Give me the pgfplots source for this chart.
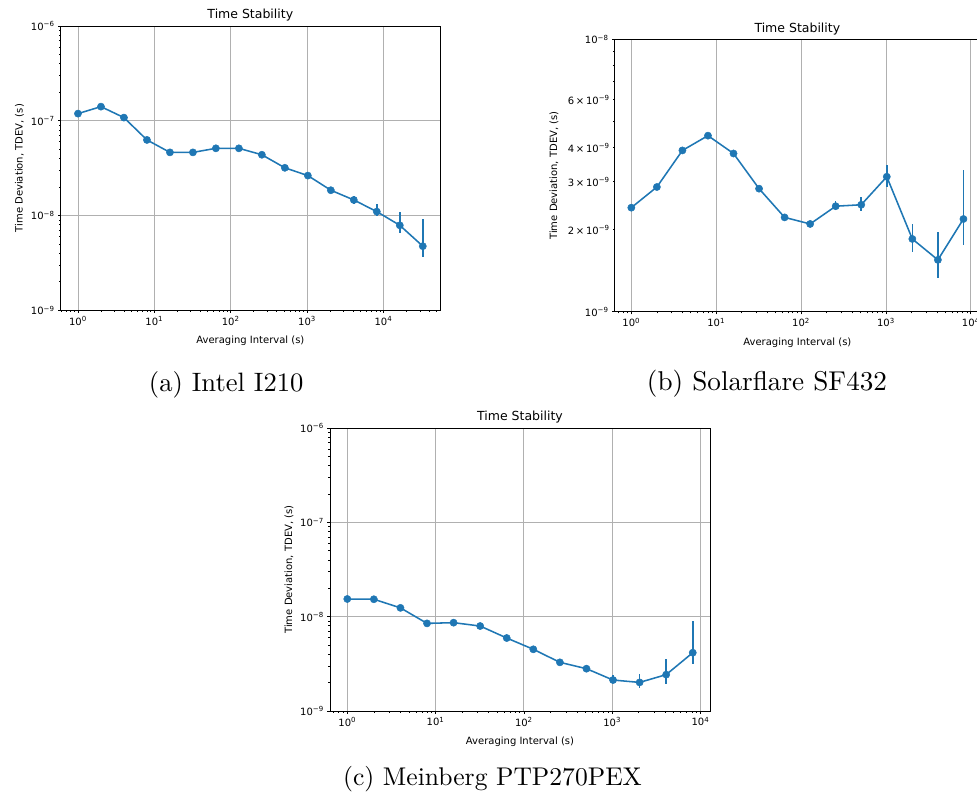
\documentclass[border=0pt]{standalone}
\usepackage{pgfplots}
\pgfplotsset{compat=1.18}
\usepackage{pgfplotstable}
\usepackage{fontspec}
\newfontfamily\djv{DejaVu Sans}
\definecolor{mplblue}{HTML}{1F77B4}
\definecolor{mplgrid}{HTML}{B0B0B0}

\pgfplotstableread{
x y ep em
1 1.19e-7 0 0
2 1.41e-7 0 0
4 1.08e-7 0 0
8 6.28e-8 0 0
16 4.64e-8 0 0
32 4.64e-8 0 0
64 5.12e-8 0 0
128 5.12e-8 0 0
256 4.38e-8 0 0
512 3.19e-8 0 0
1024 2.64e-8 0 0
2048 1.85e-8 0 0
4096 1.46e-8 0.16e-8 0.14e-8
8192 1.10e-8 0.21e-8 0.12e-8
16384 7.89e-9 3.11e-9 1.34e-9
32768 4.75e-9 4.39e-9 1.12e-9
}\dataA

\pgfplotstableread{
x y ep em
1 2.41e-9 0 0
2 2.87e-9 0 0
4 3.91e-9 0 0
8 4.43e-9 0 0
16 3.81e-9 0 0
32 2.83e-9 0 0
64 2.22e-9 0 0
128 2.10e-9 0 0
256 2.44e-9 0.10e-9 0.07e-9
512 2.47e-9 0.17e-9 0.12e-9
1024 3.13e-9 0.34e-9 0.25e-9
2048 1.85e-9 0.25e-9 0.19e-9
4096 1.55e-9 0.42e-9 0.22e-9
8192 2.19e-9 1.11e-9 0.43e-9
}\dataB

\pgfplotstableread{
x y ep em
1 1.54e-8 0 0
2 1.53e-8 0 0
4 1.24e-8 0 0
8 8.49e-9 0 0
16 8.64e-9 0 0
32 7.96e-9 0 0
64 5.94e-9 0 0
128 4.51e-9 0 0
256 3.28e-9 0 0
512 2.81e-9 0 0
1024 2.13e-9 0.28e-9 0.17e-9
2048 2.01e-9 0.44e-9 0.27e-9
4096 2.43e-9 1.16e-9 0.50e-9
8192 4.15e-9 4.92e-9 1.02e-9
}\dataC

\begin{document}
\begin{tikzpicture}
\path[use as bounding box, clip] (0pt,0pt) rectangle (977pt,798pt);

% (a)
\begin{axis}[
  xmode=log, ymode=log, scale only axis,
  axis line style={line width=0.8pt},
  tick align=outside, tick pos=left,
  major tick length=2.7pt, minor tick length=1.6pt,
  tick style={black, line width=0.7pt},
  xmajorgrids, ymajorgrids,
  major grid style={mplgrid, line width=0.8pt},
  title style={font=\djv\fontsize{12.5}{15}\selectfont, yshift=-5pt},
  label style={font=\djv\fontsize{10}{12}\selectfont},
  xlabel style={yshift=-4pt},
  tick label style={font=\djv\fontsize{10}{12}\selectfont},
  title={Time Stability},
  xlabel={Averaging Interval (s)},
  ylabel={Time Deviation, TDEV, (s)},
  xtick={1,10,100,1000,10000},
  xticklabels={10\textsuperscript{0},10\textsuperscript{1},10\textsuperscript{2},10\textsuperscript{3},10\textsuperscript{4}},
  ymin=1e-9, ymax=1e-6,
  ytick={1e-9,1e-8,1e-7,1e-6},
  yticklabels={10\textsuperscript{−9},10\textsuperscript{−8},10\textsuperscript{−7},10\textsuperscript{−6}},
  minor ytick={2e-9,3e-9,4e-9,5e-9,6e-9,7e-9,8e-9,9e-9,2e-8,3e-8,4e-8,5e-8,6e-8,7e-8,8e-8,9e-8,2e-7,3e-7,4e-7,5e-7,6e-7,7e-7,8e-7,9e-7},
  at={(60.7pt,487.7pt)}, anchor=south west, width=379.3pt, height=284.3pt,
  xmin=0.594, xmax=55080,
  minor xtick={0.6,0.7,0.8,0.9,2,3,4,5,6,7,8,9,20,30,40,50,60,70,80,90,200,300,400,500,600,700,800,900,2000,3000,4000,5000,6000,7000,8000,9000,20000,30000,40000,50000},
]
\addplot[mplblue, line width=1.55pt, mark=*, mark size=3.6pt, mark options={mplblue, solid, line width=0.5pt},
  error bars/y dir=both, error bars/y explicit, error bars/error mark=none,
  error bars/error bar style={line width=1.55pt, mplblue}]
  table[x=x, y=y, y error plus=ep, y error minus=em] {\dataA};
\end{axis}

% (b)
\begin{axis}[
  xmode=log, ymode=log, scale only axis,
  axis line style={line width=0.8pt},
  tick align=outside, tick pos=left,
  major tick length=2.7pt, minor tick length=1.6pt,
  tick style={black, line width=0.7pt},
  xmajorgrids, ymajorgrids,
  major grid style={mplgrid, line width=0.8pt},
  title style={font=\djv\fontsize{12.5}{15}\selectfont, yshift=-5pt},
  label style={font=\djv\fontsize{10}{12}\selectfont},
  xlabel style={yshift=-4pt},
  tick label style={font=\djv\fontsize{10}{12}\selectfont},
  title={Time Stability},
  xlabel={Averaging Interval (s)},
  ylabel={Time Deviation, TDEV, (s)},
  xtick={1,10,100,1000,10000},
  xticklabels={10\textsuperscript{0},10\textsuperscript{1},10\textsuperscript{2},10\textsuperscript{3},10\textsuperscript{4}},
  at={(614.7pt,486.3pt)}, anchor=south west, width=365.3pt, height=272.4pt,
  xmin=0.637, xmax=12850,
  ymin=1e-9, ymax=1e-8,
  ytick={1e-9,1e-8},
  yticklabels={10\textsuperscript{−9},10\textsuperscript{−8}},
  extra y ticks={2e-9,3e-9,4e-9,6e-9},
  extra y tick labels={2\,×\,10\textsuperscript{−9},3\,×\,10\textsuperscript{−9},4\,×\,10\textsuperscript{−9},6\,×\,10\textsuperscript{−9}},
  extra y tick style={grid=none, major tick length=1.6pt},
  minor ytick={5e-9,7e-9,8e-9,9e-9},
  minor xtick={0.7,0.8,0.9,2,3,4,5,6,7,8,9,20,30,40,50,60,70,80,90,200,300,400,500,600,700,800,900,2000,3000,4000,5000,6000,7000,8000,9000},
]
\addplot[mplblue, line width=1.55pt, mark=*, mark size=3.6pt, mark options={mplblue, solid, line width=0.5pt},
  error bars/y dir=both, error bars/y explicit, error bars/error mark=none,
  error bars/error bar style={line width=1.55pt, mplblue}]
  table[x=x, y=y, y error plus=ep, y error minus=em] {\dataB};
\end{axis}

% (c)
\begin{axis}[
  xmode=log, ymode=log, scale only axis,
  axis line style={line width=0.8pt},
  tick align=outside, tick pos=left,
  major tick length=2.7pt, minor tick length=1.6pt,
  tick style={black, line width=0.7pt},
  xmajorgrids, ymajorgrids,
  major grid style={mplgrid, line width=0.8pt},
  title style={font=\djv\fontsize{12.5}{15}\selectfont, yshift=-5pt},
  label style={font=\djv\fontsize{10}{12}\selectfont},
  xlabel style={yshift=-4pt},
  tick label style={font=\djv\fontsize{10}{12}\selectfont},
  title={Time Stability},
  xlabel={Averaging Interval (s)},
  ylabel={Time Deviation, TDEV, (s)},
  xtick={1,10,100,1000,10000},
  xticklabels={10\textsuperscript{0},10\textsuperscript{1},10\textsuperscript{2},10\textsuperscript{3},10\textsuperscript{4}},
  ymin=1e-9, ymax=1e-6,
  ytick={1e-9,1e-8,1e-7,1e-6},
  yticklabels={10\textsuperscript{−9},10\textsuperscript{−8},10\textsuperscript{−7},10\textsuperscript{−6}},
  minor ytick={2e-9,3e-9,4e-9,5e-9,6e-9,7e-9,8e-9,9e-9,2e-8,3e-8,4e-8,5e-8,6e-8,7e-8,8e-8,9e-8,2e-7,3e-7,4e-7,5e-7,6e-7,7e-7,8e-7,9e-7},
  at={(330pt,87pt)}, anchor=south west, width=380pt, height=283pt,
  xmin=0.637, xmax=12850,
  minor xtick={0.7,0.8,0.9,2,3,4,5,6,7,8,9,20,30,40,50,60,70,80,90,200,300,400,500,600,700,800,900,2000,3000,4000,5000,6000,7000,8000,9000},
]
\addplot[mplblue, line width=1.55pt, mark=*, mark size=3.6pt, mark options={mplblue, solid, line width=0.5pt},
  error bars/y dir=both, error bars/y explicit, error bars/error mark=none,
  error bars/error bar style={line width=1.55pt, mplblue}]
  table[x=x, y=y, y error plus=ep, y error minus=em] {\dataC};
\end{axis}

\node[font=\fontsize{10}{12}\selectfont, scale=2.66, transform shape, inner sep=0pt] at (226.2pt,413pt) {(a) Intel I210};
\node[font=\fontsize{10}{12}\selectfont, scale=2.72, transform shape, inner sep=0pt] at (767pt,414pt) {(b) Solarflare SF432};
\node[font=\fontsize{10}{12}\selectfont, scale=2.56, transform shape, inner sep=0pt] at (492.5pt,19pt) {(c) Meinberg PTP270PEX};
\end{tikzpicture}
\end{document}
